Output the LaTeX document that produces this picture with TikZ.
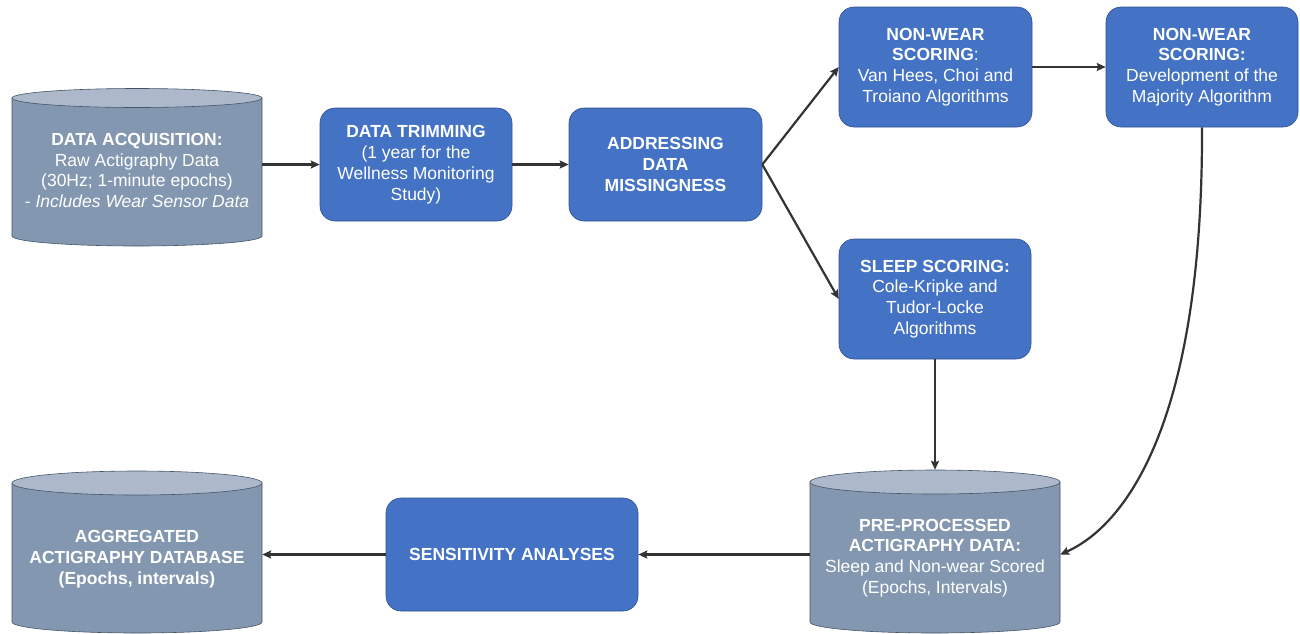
\documentclass[tikz,border=0pt]{standalone}
\usepackage{fontspec}
\setmainfont{Liberation Sans}
\usetikzlibrary{arrows.meta}
\definecolor{boxblue}{HTML}{4472C4}
\definecolor{boxedge}{HTML}{2F528F}
\definecolor{cylbody}{HTML}{8497B0}
\definecolor{cyltop}{HTML}{ADB9CA}
\definecolor{cyledge}{HTML}{44546A}
\definecolor{arrowgray}{HTML}{333333}
\tikzset{
  txt/.style={text=white, align=center, font=\fontsize{17.5}{20.8}\selectfont, inner sep=0pt},
  bluebox/.style={txt, draw=boxedge, line width=0.6pt, fill=boxblue, rounded corners=15pt},
  cyltext/.style={txt, minimum width=250pt},
  arr/.style={draw=arrowgray, line width=2.2pt, -{Stealth[length=9pt,width=8pt,inset=1.5pt]}},
  cylbodystyle/.style={fill=cylbody, draw=cyledge, line width=0.6pt},
  cyltopstyle/.style={fill=cyltop, draw=cyledge, line width=0.6pt}
}
\begin{document}
\begin{tikzpicture}[x=1pt, y=-1pt]
\useasboundingbox (0,0) rectangle (1300,633);

% cylinder 1
\path[cylbodystyle] (12,98) -- (12,236) arc[start angle=180, end angle=360, x radius=125pt, y radius=10pt] -- (262,98) -- cycle;
\path[cyltopstyle] (137,98) ellipse [x radius=125pt, y radius=9.5pt];
% cylinder pre-processed
\path[cylbodystyle] (810,482) -- (810,622) arc[start angle=180, end angle=360, x radius=125pt, y radius=11pt] -- (1060,482) -- cycle;
\path[cyltopstyle] (935,482) ellipse [x radius=125pt, y radius=12pt];
% cylinder aggregated
\path[cylbodystyle] (12,483) -- (12,622) arc[start angle=180, end angle=360, x radius=125pt, y radius=11pt] -- (262,483) -- cycle;
\path[cyltopstyle] (137,483) ellipse [x radius=125pt, y radius=12pt];

\node[cyltext, minimum height=140pt] (acq) at (137,170.5)
  {\textbf{DATA ACQUISITION:}\\Raw Actigraphy Data\\(30Hz; 1-minute epochs)\\- \textit{Includes Wear Sensor Data}};
\node[cyltext, minimum height=176pt] (pre) at (935,558)
  {\textbf{PRE-PROCESSED}\\\textbf{ACTIGRAPHY DATA:}\\Sleep and Non-wear Scored\\(Epochs, Intervals)};
\node[cyltext, minimum height=120pt] (agg) at (137,559)
  {\textbf{AGGREGATED}\\\textbf{ACTIGRAPHY DATABASE}\\\textbf{(Epochs, intervals)}};

\node[bluebox, minimum width=192pt, minimum height=113pt] (trim) at (416,164.5)
  {\textbf{DATA TRIMMING}\\(1 year for the\\Wellness Monitoring\\Study)};
\node[bluebox, minimum width=193pt, minimum height=113pt] (addr) at (665.5,164.5)
  {\textbf{ADDRESSING}\\\textbf{DATA}\\\textbf{MISSINGNESS}};
\node[bluebox, minimum width=193pt, minimum height=120pt] (nw1) at (935.5,67)
  {\textbf{NON-WEAR}\\\textbf{SCORING}:\\Van Hees, Choi and\\Troiano Algorithms};
\node[bluebox, minimum width=192pt, minimum height=120pt] (nw2) at (1202,67)
  {\textbf{NON-WEAR}\\\textbf{SCORING:}\\Development of the\\Majority Algorithm};
\node[bluebox, minimum width=192pt, minimum height=120pt] (sleep) at (935,299)
  {\textbf{SLEEP SCORING:}\\Cole-Kripke and\\Tudor-Locke\\Algorithms};
\node[bluebox, minimum width=252pt, minimum height=113pt] (sens) at (512,554.5)
  {\textbf{SENSITIVITY ANALYSES}};

\draw[arr] (acq.east |- trim.west) -- (trim.west);
\draw[arr] (trim.east) -- (addr.west);
\draw[arr] (addr.east) -- (nw1.west);
\draw[arr] (addr.east) -- (sleep.west);
\draw[arr] (nw1.east) -- (nw2.west);
\draw[arr] (sleep.south) -- (pre.north);
\draw[arr] (nw2.south) .. controls (1203,430) and (1122,527) .. (pre.east |- sens.east);
\draw[arr] (pre.west |- sens.east) -- (sens.east);
\draw[arr] (sens.west) -- (agg.east |- sens.west);
\end{tikzpicture}
\end{document}
